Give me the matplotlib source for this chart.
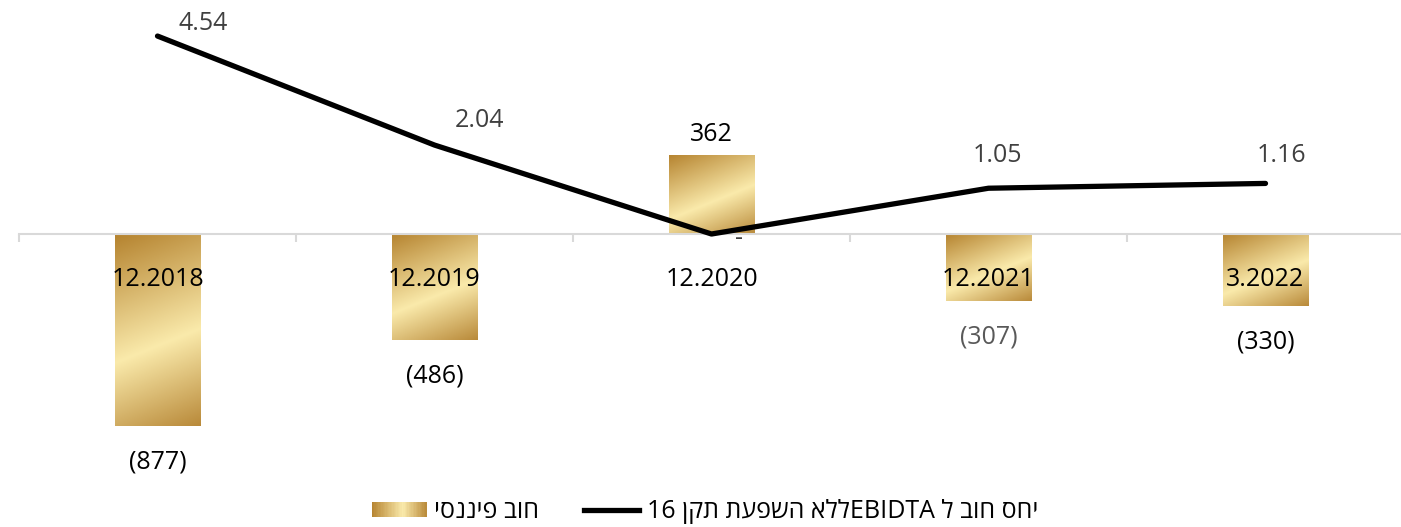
import re
import numpy as np
import matplotlib
matplotlib.use('Agg')
import matplotlib.pyplot as plt
from matplotlib.colors import LinearSegmentedColormap
from matplotlib.patches import Rectangle
from matplotlib.lines import Line2D
from matplotlib.legend_handler import HandlerBase

categories = ['12.2018', '12.2019', '12.2020', '12.2021', '3.2022']
debt = [-877, -486, 362, -307, -330]
ratio = [4.54, 2.04, 0, 1.05, 1.16]
debt_labels = ['(877)', '(486)', '362', '(307)', '(330)']
ratio_labels = ['4.54', '2.04', '-', '1.05', '1.16']
legend_debt = 'חוב פיננסי'
legend_ratio = 'יחס חוב ל EBIDTAללא השפעת תקן 16'

# label offsets in pixels (right, up)
ratio_offsets = [(46, 13), (45, 25), (27, -4), (9, 33), (16, 28)]
debt_label_colors = ['black', 'black', 'black', '#595959', 'black']


def vis(s):
    # matplotlib has no bidi: reverse hebrew, keep latin/digit runs in order
    return re.sub(r'[A-Za-z0-9.]+', lambda m: m.group(0)[::-1], s[::-1])


plt.rcParams['font.family'] = ['Open Sans', 'DejaVu Sans']

gold = LinearSegmentedColormap.from_list(
    'gold', [(0, '#b5832f'), (0.57, '#faeaab'), (1, '#b98a3a')])

fig = plt.figure(figsize=(14.01, 5.27), dpi=100)
ax = fig.add_axes([19 / 1401, 47 / 527, 1385 / 1401, 480 / 527])
ax2 = ax.twinx()

ax.set_xlim(-0.5, 4.5)
ax.set_ylim(-1126, 1071)
ax2.set_ylim(-5.642, 5.367)

x = np.arange(len(categories))
w = 0.31
bars = ax.bar(x, debt, w, color='none', linewidth=0)

# gradient bands tilted in pixel space, like the office fill
tilt = 0.4
for b in bars:
    x0 = b.get_x()
    y0 = min(b.get_y(), b.get_y() + b.get_height())
    y1 = max(b.get_y(), b.get_y() + b.get_height())
    p0 = ax.transData.transform((x0, y0))
    p1 = ax.transData.transform((x0 + b.get_width(), y1))
    wpx = abs(p1[0] - p0[0])
    hpx = abs(p1[1] - p0[1])
    upx = np.linspace(0, wpx, 100)
    vpx = np.linspace(0, hpx, 200)
    grad = (vpx[:, None] + tilt * upx[None, :]) / (hpx + tilt * wpx)
    im = ax.imshow(grad, cmap=gold, vmin=0, vmax=1, extent=[x0, x0 + b.get_width(), y0, y1],
                   aspect='auto', zorder=1, interpolation='bilinear')
    im.set_clip_path(b)

ax.set_xlim(-0.5, 4.5)
ax.set_ylim(-1126, 1071)

ax2.plot(x, ratio, color='black', lw=3.8, solid_capstyle='round', solid_joinstyle='round')

for s in ['top', 'left', 'right']:
    ax.spines[s].set_visible(False)
    ax2.spines[s].set_visible(False)
ax2.spines['bottom'].set_visible(False)
ax.spines['bottom'].set_position(('data', 0))
ax.spines['bottom'].set_color('#d9d9d9')
ax.spines['bottom'].set_linewidth(1.5)

ax.set_xticks(x)
ax.set_xticklabels(categories, fontsize=18)
ax.tick_params(axis='x', which='major', length=0, pad=24)
ax.set_xticks(np.arange(-0.5, 5, 1), minor=True)
ax.tick_params(axis='x', which='minor', length=6, width=1.5, color='#d9d9d9')
ax.set_yticks([])
ax2.set_yticks([])

for xi, v, lab, c in zip(x, debt, debt_labels, debt_label_colors):
    off = 20 if v >= 0 else -36
    ax.annotate(lab, (xi, v), xytext=(0, off * 0.72), textcoords='offset points',
                ha='center', va='center', fontsize=18, color=c)

for xi, r, lab, (dx, dy) in zip(x, ratio, ratio_labels, ratio_offsets):
    ax2.annotate(lab, (xi, r), xytext=(dx * 0.72, dy * 0.72), textcoords='offset points',
                 ha='center', va='center', fontsize=18, color='#404040')


class GradientHandler(HandlerBase):
    def create_artists(self, legend, orig_handle, xdescent, ydescent, width, height, fontsize, trans):
        k = 40
        out = []
        for i in range(k):
            out.append(Rectangle((-xdescent + width * i / k, -ydescent), width / k * 1.1, height,
                                 facecolor=gold((i + 0.5) / k), edgecolor='none', transform=trans))
        return out


fig.legend([Rectangle((0, 0), 1, 1), Line2D([], [], color='black', lw=3.8)],
           [vis(legend_debt), vis(legend_ratio)],
           handler_map={Rectangle: GradientHandler()},
           loc='center', bbox_to_anchor=(0.503, 1 - 512 / 527), ncol=2, frameon=False,
           fontsize=18, handlelength=2.2, handleheight=0.55, columnspacing=1.8, handletextpad=0.3)

fig.savefig('out.png', dpi=100)
